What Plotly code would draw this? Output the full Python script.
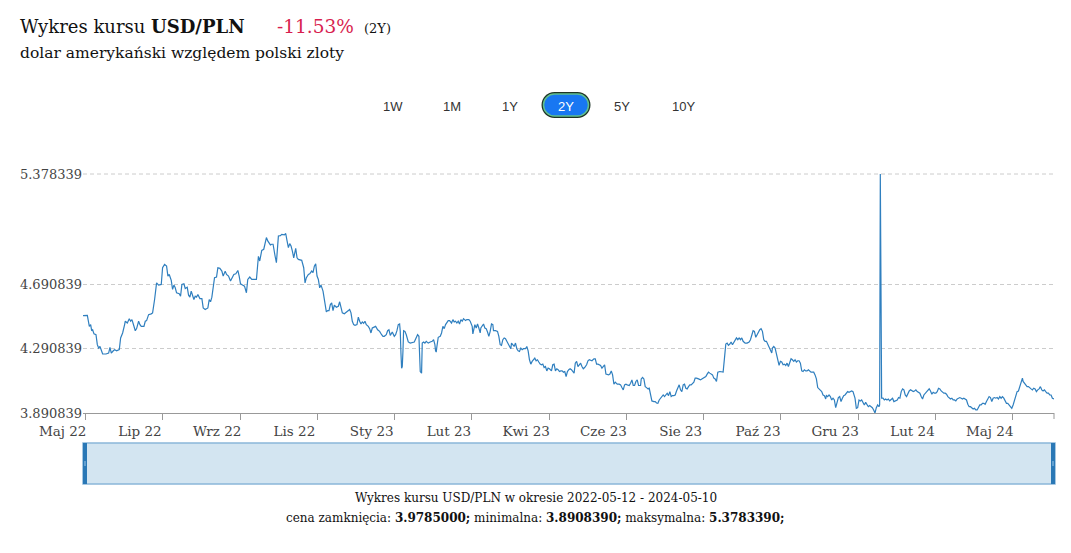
import pandas as pd
import plotly.graph_objects as go

start_date = "2022-05-12"
end_offset = 729

# day offsets from start_date and USD/PLN closing values
days_a = [0, 3.25, 4.75, 5.75, 6.5, 7.25, 8.25, 9.75, 10.75, 11.75, 12.75, 13.75, 14.75, 17.25, 19.25, 20.25, 21.25, 22.75, 23.75, 25.25,
          27.25, 28.25, 29.75, 31.25, 31.75, 33.25, 34.75, 35.75, 36.75, 37.75, 39.25, 40.25, 41.75, 42.75, 43.75, 45.75, 46.75, 47.75, 49.25, 51.25,
          52.25, 53.75, 55.25, 56.75, 58.75, 59.75, 61.25, 62.75, 63.75, 64.75, 66.25, 67.25, 68.25, 69.25, 70.25, 72.25, 73.25, 74.25, 75.75, 76.75,
          78.25, 79.25, 80.25, 81.25, 82.25, 83.25, 84.25, 85.25, 86.25, 87.75, 89.25, 90.25, 91.75, 93.75, 94.75, 95.75, 96.75, 97.75, 98.75, 100.25,
          101.25, 102.75, 104.25, 105.25, 106.75, 107.75, 109.25, 110.75, 112.25, 113.25, 114.75, 116.25, 117.25, 118.25, 119.75, 121.25]
vals_a = [4.497, 4.499, 4.430, 4.441, 4.403, 4.409, 4.383, 4.378, 4.316, 4.295, 4.305, 4.278, 4.258, 4.258, 4.264, 4.299, 4.264, 4.278, 4.285, 4.278,
          4.285, 4.358, 4.389, 4.441, 4.462, 4.451, 4.478, 4.462, 4.472, 4.445, 4.403, 4.416, 4.462, 4.441, 4.430, 4.430, 4.462, 4.466, 4.503, 4.508,
          4.514, 4.597, 4.701, 4.687, 4.691, 4.795, 4.816, 4.805, 4.743, 4.753, 4.716, 4.660, 4.687, 4.670, 4.639, 4.633, 4.618, 4.691, 4.695, 4.666,
          4.674, 4.624, 4.612, 4.649, 4.618, 4.597, 4.618, 4.612, 4.628, 4.603, 4.603, 4.545, 4.535, 4.545, 4.597, 4.583, 4.612, 4.680, 4.733, 4.737,
          4.795, 4.791, 4.774, 4.743, 4.774, 4.753, 4.743, 4.712, 4.733, 4.753, 4.757, 4.778, 4.743, 4.695, 4.687, 4.680]

days_b = [122.7, 123.7, 125.2, 126.7, 130.2, 131.2, 131.7, 132.7, 133.2, 134.2, 135.7, 136.7, 137.7, 138.7, 139.7, 140.7, 141.7, 142.7, 144.2, 145.2,
          146.2, 146.7, 148.2, 149.2, 151.2, 152.2, 153.2, 154.2, 155.2, 156.2, 157.2, 158.2, 159.2, 159.7, 160.7, 161.7, 164.2, 165.7, 166.7, 167.7,
          169.2, 170.2, 171.7, 172.7, 173.7, 174.7, 175.7, 176.7, 177.7, 178.7, 180.2, 181.7, 182.7, 183.7, 184.7, 185.7, 186.7, 187.7, 188.7, 190.2,
          191.7, 192.7, 193.7, 194.7, 196.2, 197.7, 199.2, 200.2, 201.2, 202.2, 203.2, 204.2, 205.7, 206.7, 207.7, 208.7, 209.7, 210.7, 211.7, 212.7,
          214.2, 215.2, 216.2, 217.2, 218.2, 219.7, 221.2, 222.7, 224.2, 225.2, 226.2, 227.7, 228.7, 229.7, 230.7, 232.2, 233.7, 234.7, 235.7, 236.7,
          237.7, 238.2, 238.7, 239.2, 239.7, 240.2, 240.7, 241.7, 242.7, 244.2, 245.7]
vals_b = [4.639, 4.722, 4.737, 4.722, 4.722, 4.816, 4.866, 4.837, 4.857, 4.903, 4.910, 4.941, 4.983, 4.962, 4.945, 4.937, 4.941, 4.941, 4.868, 4.826,
          4.937, 4.993, 4.995, 5.003, 4.999, 5.008, 4.962, 4.920, 4.945, 4.930, 4.899, 4.857, 4.895, 4.916, 4.857, 4.847, 4.841, 4.795, 4.701, 4.733,
          4.753, 4.757, 4.774, 4.764, 4.805, 4.820, 4.743, 4.722, 4.670, 4.687, 4.649, 4.583, 4.520, 4.528, 4.528, 4.566, 4.576, 4.528, 4.562, 4.549,
          4.555, 4.583, 4.555, 4.514, 4.508, 4.520, 4.528, 4.535, 4.514, 4.462, 4.441, 4.437, 4.441, 4.487, 4.462, 4.445, 4.458, 4.449, 4.462, 4.441,
          4.430, 4.416, 4.389, 4.420, 4.424, 4.430, 4.409, 4.399, 4.378, 4.368, 4.368, 4.378, 4.403, 4.409, 4.374, 4.395, 4.368, 4.378, 4.403, 4.441,
          4.445, 4.399, 4.264, 4.170, 4.180, 4.274, 4.403, 4.399, 4.378, 4.333, 4.326]

days_c = [248.7, 250.2, 251.2, 252.2, 253.2, 254.2, 254.7, 255.7, 256.7, 257.7, 259.2, 260.7, 262.2, 263.2, 264.2, 264.7, 265.2, 265.7, 266.7, 268.2,
          269.2, 270.2, 271.2, 272.2, 273.2, 274.2, 275.2, 276.7, 277.7, 278.7, 279.7, 280.7, 281.7, 282.7, 283.7, 284.7, 285.7, 287.2, 288.2, 289.7,
          290.7, 292.2, 292.7, 293.2, 294.2, 295.2, 296.2, 297.2, 298.2, 298.7, 299.7, 300.7, 301.7, 302.7, 303.7, 304.7, 305.7, 306.7, 307.7, 308.2,
          309.7, 311.2, 312.2, 313.2, 314.2, 315.2, 316.2, 317.2, 318.2, 319.2, 320.2, 321.2, 321.7, 322.7, 323.7, 324.7, 325.7, 326.7, 327.7, 328.7,
          329.7, 330.7, 332.2, 333.2, 334.2, 335.2, 336.2, 337.2, 338.2, 339.2, 340.2, 341.2, 342.2, 343.2, 344.2, 345.2, 346.2, 347.2, 348.2, 349.2,
          350.2, 351.7, 352.7, 353.7, 354.7, 355.7, 356.7, 357.7, 358.7, 359.7, 360.7, 361.7, 362.7, 363.7, 364.7, 365.7, 366.7, 367.7, 368.7]
vals_c = [4.333, 4.358, 4.378, 4.368, 4.149, 4.139, 4.326, 4.333, 4.326, 4.337, 4.326, 4.333, 4.337, 4.347, 4.316, 4.278, 4.270, 4.305, 4.362, 4.368,
          4.389, 4.430, 4.416, 4.441, 4.451, 4.466, 4.466, 4.451, 4.472, 4.458, 4.462, 4.451, 4.462, 4.445, 4.472, 4.462, 4.478, 4.466, 4.472, 4.472,
          4.462, 4.430, 4.383, 4.403, 4.441, 4.420, 4.445, 4.420, 4.389, 4.420, 4.437, 4.445, 4.420, 4.416, 4.395, 4.368, 4.399, 4.445, 4.441, 4.403,
          4.403, 4.399, 4.368, 4.316, 4.312, 4.347, 4.358, 4.353, 4.337, 4.320, 4.312, 4.291, 4.326, 4.316, 4.305, 4.326, 4.291, 4.278, 4.274, 4.295,
          4.285, 4.291, 4.291, 4.305, 4.278, 4.222, 4.195, 4.212, 4.222, 4.232, 4.216, 4.222, 4.208, 4.195, 4.191, 4.195, 4.174, 4.180, 4.153, 4.170,
          4.166, 4.153, 4.191, 4.195, 4.153, 4.166, 4.160, 4.149, 4.153, 4.153, 4.145, 4.149, 4.118, 4.149, 4.160, 4.166, 4.160, 4.149, 4.139]

days_d = [369.6, 370.6, 371.6, 372.6, 373.6, 374.6, 375.6, 376.6, 378.1, 379.1, 380.1, 382.1, 383.6, 384.6, 385.6, 386.6, 387.6, 388.6, 389.6, 390.6,
          391.6, 392.6, 393.6, 394.6, 395.6, 396.6, 397.6, 398.6, 399.6, 401.1, 402.6, 403.6, 404.6, 405.6, 406.6, 407.6, 408.6, 410.1, 411.1, 412.1,
          413.1, 414.1, 415.1, 416.1, 417.1, 418.6, 419.1, 420.1, 421.1, 422.1, 423.1, 424.1, 425.1, 426.1, 427.1, 428.6, 429.6, 430.6, 431.6, 432.6,
          433.6, 434.6, 435.6, 436.6, 437.6, 438.6, 439.6, 440.6, 441.6, 442.6, 443.6, 444.6, 445.6, 446.6, 447.6, 448.6, 449.6, 450.6, 451.6, 452.6,
          453.6, 454.6, 455.6, 456.6, 457.6, 458.6, 459.6, 460.6, 462.1, 463.6, 464.6, 466.1, 467.6, 468.6, 469.6, 470.6, 471.6, 472.6, 473.6, 474.6,
          475.6, 476.6, 478.1, 479.6, 480.6, 481.6, 482.6, 483.6, 484.6, 485.6, 486.6, 487.6, 488.6, 489.6, 490.6, 491.6, 492.6]
vals_d = [4.201, 4.212, 4.180, 4.191, 4.201, 4.180, 4.166, 4.174, 4.191, 4.216, 4.222, 4.216, 4.228, 4.228, 4.195, 4.195, 4.191, 4.187, 4.170, 4.180,
          4.191, 4.133, 4.128, 4.128, 4.133, 4.153, 4.128, 4.070, 4.083, 4.070, 4.070, 4.066, 4.049, 4.035, 4.066, 4.070, 4.066, 4.062, 4.076, 4.097,
          4.062, 4.062, 4.087, 4.097, 4.062, 4.062, 4.103, 4.112, 4.103, 4.055, 4.049, 4.041, 4.045, 4.003, 3.966, 3.962, 3.962, 3.953, 3.951, 3.972,
          3.983, 3.999, 4.003, 3.993, 4.008, 4.014, 3.999, 4.024, 3.993, 3.999, 3.999, 4.003, 4.028, 4.045, 4.066, 4.035, 4.024, 4.066, 4.070, 4.045,
          4.041, 4.055, 4.066, 4.066, 4.076, 4.083, 4.108, 4.108, 4.103, 4.097, 4.103, 4.112, 4.118, 4.133, 4.145, 4.139, 4.133, 4.128, 4.108, 4.103,
          4.087, 4.145, 4.149, 4.145, 4.145, 4.232, 4.320, 4.326, 4.312, 4.320, 4.333, 4.316, 4.333, 4.341, 4.358, 4.347, 4.358]

days_e = [493.6, 494.6, 495.6, 497.1, 498.6, 500.1, 501.1, 502.1, 503.1, 504.1, 505.1, 506.1, 507.1, 508.1, 509.1, 510.1, 511.1, 512.1, 513.1, 514.1,
          515.1, 516.1, 517.1, 517.6, 518.6, 519.6, 520.6, 521.6, 522.6, 523.6, 524.6, 525.6, 526.6, 527.6, 528.6, 529.6, 530.6, 531.6, 532.6, 533.6,
          534.6, 535.6, 536.6, 537.6, 538.6, 539.6, 540.6, 541.6, 542.6, 543.6, 544.6, 545.6, 546.6, 547.6, 548.6, 549.6, 550.6, 551.6, 552.6, 553.6,
          554.6, 555.6, 556.6, 557.6, 558.1, 559.1, 560.1, 561.1, 562.1, 563.1, 564.1, 565.1, 566.1, 567.1, 568.1, 569.1, 570.1, 571.1, 572.1, 573.1,
          574.1, 575.1, 576.1, 577.1, 578.1, 579.1, 579.6, 580.6, 581.6, 582.6, 583.6, 584.6, 585.6, 586.6, 587.6, 588.6, 589.6, 590.6, 591.6, 592.6,
          593.6, 594.6, 595.6, 596.6, 597.6, 598.1, 598.6, 599.6, 600.6, 601.6, 602.6, 603.6, 604.6, 605.6]
vals_e = [4.347, 4.358, 4.337, 4.326, 4.326, 4.333, 4.347, 4.378, 4.403, 4.399, 4.362, 4.378, 4.399, 4.409, 4.416, 4.399, 4.347, 4.337, 4.337, 4.316,
          4.305, 4.285, 4.264, 4.295, 4.305, 4.295, 4.258, 4.216, 4.187, 4.212, 4.208, 4.191, 4.195, 4.187, 4.201, 4.180, 4.212, 4.228, 4.222, 4.212,
          4.222, 4.208, 4.216, 4.216, 4.201, 4.153, 4.149, 4.160, 4.153, 4.153, 4.160, 4.149, 4.145, 4.145, 4.145, 4.128, 4.103, 4.049, 4.041, 4.028,
          4.024, 4.003, 3.999, 3.978, 3.999, 3.993, 4.003, 3.993, 3.972, 3.983, 3.972, 3.924, 3.951, 3.987, 3.993, 3.962, 3.983, 3.999, 4.003, 4.014,
          4.024, 4.020, 4.024, 4.028, 4.024, 4.003, 3.983, 3.920, 3.924, 3.972, 3.966, 3.972, 3.951, 3.941, 3.957, 3.941, 3.930, 3.937, 3.930, 3.924,
          3.910, 3.890839, 3.924, 3.941, 3.930, 3.941, 5.378339, 3.983, 3.983, 3.972, 3.978, 3.972, 3.978, 3.966]

days_f = [606.3, 607.8, 608.8, 609.8, 611.3, 612.3, 613.3, 614.3, 615.3, 616.3, 617.3, 618.3, 619.3, 620.3, 621.3, 622.3, 623.3, 624.3, 625.3, 626.3,
          627.3, 628.3, 629.3, 630.3, 631.3, 632.3, 633.3, 634.3, 635.3, 636.3, 637.3, 638.3, 639.3, 640.3, 641.3, 642.3, 643.3, 644.3, 645.3, 646.3,
          647.3, 648.3, 649.3, 650.3, 651.3, 652.3, 653.3, 654.3, 655.3, 656.3, 657.3, 658.3, 659.3, 660.3, 661.3, 662.3, 663.3, 664.3, 665.3, 666.3,
          667.3, 668.3, 669.3, 670.3, 671.3, 672.3, 673.3, 674.3, 675.3, 676.3, 677.3, 678.3, 679.3, 680.3, 681.3, 682.3, 683.3, 684.3, 685.3, 686.3,
          687.3, 688.3, 689.3, 690.3, 691.3, 692.3, 693.3, 694.3, 695.3, 696.3, 697.3, 698.3, 699.3, 700.3, 701.3, 702.3, 703.3, 704.3, 705.3, 705.8,
          706.8, 707.8, 708.8, 709.8, 710.8, 711.8, 712.8, 713.8, 714.8, 715.8, 716.8, 717.8, 718.8, 719.8, 720.8, 721.8, 722.8, 723.8, 724.8, 725.8,
          726.8, 727.8, 729]
vals_f = [3.972, 3.983, 3.962, 3.966, 3.972, 3.987, 3.983, 4.024, 4.041, 4.035, 4.003, 3.993, 4.014, 4.028, 4.035, 4.028, 4.024, 4.028, 4.035, 4.024,
          4.020, 4.014, 3.993, 3.978, 4.003, 4.014, 4.020, 4.035, 4.041, 4.028, 4.008, 4.020, 4.014, 4.014, 4.024, 4.045, 4.041, 4.028, 4.020, 4.014,
          4.014, 4.008, 3.993, 3.983, 3.978, 3.983, 3.972, 3.972, 3.966, 3.978, 3.983, 3.987, 3.983, 3.978, 3.983, 3.978, 3.972, 3.945, 3.930, 3.930,
          3.924, 3.916, 3.920, 3.910, 3.910, 3.930, 3.941, 3.941, 3.951, 3.951, 3.945, 3.962, 3.978, 3.993, 3.987, 3.962, 3.983, 3.987, 3.983, 3.987,
          3.978, 3.993, 3.983, 3.993, 3.983, 3.962, 3.951, 3.951, 3.941, 3.930, 3.920, 3.941, 3.972, 4.003, 4.024, 4.028, 4.055, 4.070, 4.108, 4.087,
          4.076, 4.066, 4.055, 4.055, 4.045, 4.041, 4.035, 4.045, 4.041, 4.024, 4.035, 4.041, 4.055, 4.035, 4.028, 4.035, 4.024, 4.014, 4.014, 4.003,
          4.003, 3.983, 3.9785]

y_ticks = [3.890839, 4.290839, 4.690839, 5.378339]
x_tick_days = [2, 60, 118, 176, 234, 292, 350, 408, 466, 524, 582, 640, 698]
x_tick_labels = ["Maj 22", "Lip 22", "Wrz 22", "Lis 22", "Sty 23", "Lut 23", "Kwi 23",
                 "Cze 23", "Sie 23", "Paź 23", "Gru 23", "Lut 24", "Maj 24"]
range_buttons = ["1W", "1M", "1Y", "2Y", "5Y", "10Y"]
active_button = "2Y"
change_pct = "-11.53%"
close_val, min_val, max_val = "3.9785000", "3.8908390", "5.3783390"

days = days_a + days_b + days_c + days_d + days_e + days_f
vals = vals_a + vals_b + vals_c + vals_d + vals_e + vals_f
assert len(days) == len(vals)

t0 = pd.Timestamp(start_date)
dates = t0 + pd.to_timedelta(days, unit="D")
tick_dates = t0 + pd.to_timedelta(x_tick_days, unit="D")
t_end = t0 + pd.Timedelta(days=end_offset)

W, H = 1071, 553
ML, MR, MT, MB = 83, 17, 174, 140
PW, PH = W - ML - MR, H - MT - MB

SERIF = "DejaVu Serif"
SANS = "Liberation Sans, Arial, sans-serif"

fig = go.Figure()
fig.add_trace(go.Scatter(x=dates, y=vals, mode="lines",
                         line=dict(color="#2f7fbf", width=1.2), hoverinfo="x+y",
                         showlegend=False))


def ann(text, px, py, size, color="#111", xanchor="left", family=SERIF):
    fig.add_annotation(text=text, xref="paper", yref="paper", x=0, y=1,
                       xshift=px - ML, yshift=MT - py, xanchor=xanchor, yanchor="middle",
                       showarrow=False, font=dict(family=family, size=size, color=color))


def fx(px):
    return (px - ML) / PW


def fy(py):
    return (MT + PH - py) / PH


# Title block
ann("Wykres kursu <b>USD/PLN</b>", 18, 26, 18)
ann(change_pct, 275, 26, 18.5, color="#d81e4f")
ann("(2Y)", 362, 28, 13)
ann("dolar amerykański względem polski zloty", 18, 53, 15.5)

# Range selector buttons
btn_x = [393, 452, 510, 566, 622, 683]


def pill(w, h):
    r = h / 2
    k = 0.5523 * r
    a = w / 2 - r
    return (f"M {-a},{-r} L {a},{-r} C {a + k},{-r} {w / 2},{-k} {w / 2},0 "
            f"C {w / 2},{k} {a + k},{r} {a},{r} L {-a},{r} "
            f"C {-a - k},{r} {-w / 2},{k} {-w / 2},0 C {-w / 2},{-k} {-a - k},{-r} {-a},{-r} Z")


for label, bx in zip(range_buttons, btn_x):
    if label == active_button:
        fig.add_shape(type="path", xref="paper", yref="paper", xsizemode="pixel", ysizemode="pixel",
                      xanchor=fx(bx), yanchor=fy(105), path=pill(49, 26),
                      fillcolor="#1d3326", line=dict(width=0), layer="above")
        fig.add_shape(type="path", xref="paper", yref="paper", xsizemode="pixel", ysizemode="pixel",
                      xanchor=fx(bx), yanchor=fy(105), path=pill(45, 22),
                      fillcolor="#1877f2", line=dict(color="#5fbf8f", width=1.5), layer="above")
        ann(label, bx, 106, 13, color="white", xanchor="center", family=SANS)
    else:
        ann(label, bx, 106, 13, color="#333", xanchor="center", family=SANS)

# Navigator
nav_top, nav_bot = 443, 484
fig.add_shape(type="rect", xref="paper", yref="paper", x0=fx(83), x1=fx(1055), y0=fy(nav_bot), y1=fy(nav_top),
              fillcolor="#d3e5f1", line=dict(color="#8ab7d9", width=1.5), layer="above")
for hx0, hx1 in [(83, 87), (1051, 1055)]:
    fig.add_shape(type="rect", xref="paper", yref="paper", x0=fx(hx0), x1=fx(hx1), y0=fy(nav_bot), y1=fy(nav_top),
                  fillcolor="#2a78b6", line=dict(width=0), layer="above")
    fig.add_shape(type="rect", xref="paper", yref="paper", x0=fx(hx0 + 1.5), x1=fx(hx1 - 1.5), y0=fy(466), y1=fy(461),
                  fillcolor="#9cc8ea", line=dict(width=0), layer="above")

# top gridline (at range edge) and right-end tick
fig.add_shape(type="line", xref="paper", yref="paper", x0=0, x1=fx(1055), y0=1, y1=1,
              line=dict(color="#cccccc", width=1, dash="4px,3px"), layer="below")
fig.add_shape(type="line", xref="paper", yref="paper", x0=1, x1=1, y0=0, y1=-6 / PH,
              line=dict(color="#999", width=1))

# Footer
ann("Wykres kursu USD/PLN w okresie 2022-05-12 - 2024-05-10", 535.5, 498, 12, xanchor="center")
ann(f"cena zamknięcia: <b>{close_val};</b> minimalna: <b>{min_val};</b> maksymalna: <b>{max_val};</b>",
    535.5, 518, 12, xanchor="center")

fig.update_layout(
    width=W, height=H,
    margin=dict(l=ML, r=MR, t=MT, b=MB),
    paper_bgcolor="white", plot_bgcolor="white",
    showlegend=False,
    xaxis=dict(type="date", range=[t0, t_end], tickvals=list(tick_dates), ticktext=x_tick_labels,
               ticks="outside", ticklen=6, tickcolor="#999", showgrid=False,
               showline=True, linecolor="#999", linewidth=1, zeroline=False,
               ticklabelshift=-23,
               tickfont=dict(family=SERIF, size=13.5, color="#444")),
    yaxis=dict(range=[y_ticks[0], y_ticks[-1]], tickvals=y_ticks, ticktext=[f"{v:.6f}" for v in y_ticks],
               showgrid=True, gridcolor="#cccccc", griddash="4px,3px", gridwidth=1,
               zeroline=False, showline=False, ticks="",
               tickfont=dict(family=SERIF, size=13, color="#444")),
)

fig.write_html("out.html")
